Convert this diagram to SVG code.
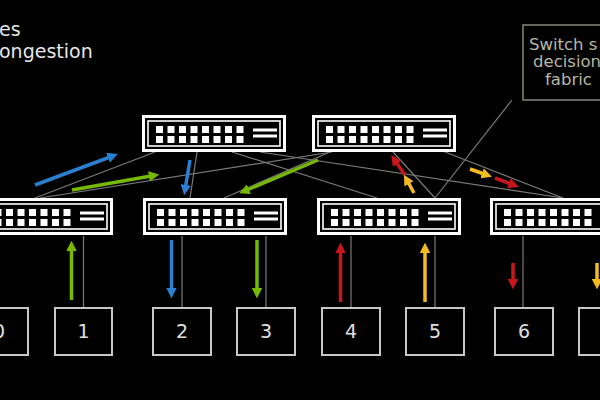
<svg xmlns="http://www.w3.org/2000/svg" xmlns:xlink="http://www.w3.org/1999/xlink" width="600" height="400" viewBox="0 0 600 400">
<style>
.title{font-family:"DejaVu Sans",sans-serif;font-size:19px;fill:#e6e6e6}
.note{font-family:"DejaVu Sans",sans-serif;font-size:16.5px;fill:#b9b6a6}
.hostbox{fill:#000;stroke:#c8c8c8;stroke-width:2}
.hostlbl{font-family:"DejaVu Sans",sans-serif;font-size:19px;fill:#e0e0e0;text-anchor:middle}
.link{stroke:#7a7a7a;stroke-width:1.2;fill:none}
.blue{stroke:#2a7fd0;stroke-width:3.5;fill:none;marker-end:url(#mb)}
.green{stroke:#76b900;stroke-width:3.5;fill:none;marker-end:url(#mg)}
.red{stroke:#c8161d;stroke-width:3.5;fill:none;marker-end:url(#mr)}
.yellow{stroke:#f4bb1f;stroke-width:3.5;fill:none;marker-end:url(#my)}
</style>
<defs>
<marker id="mb" viewBox="0 0 10 10" refX="2" refY="5" markerWidth="3" markerHeight="3" orient="auto"><path d="M0,0 L10,5 L0,10 z" fill="#2a7fd0"/></marker>
<marker id="mg" viewBox="0 0 10 10" refX="2" refY="5" markerWidth="3" markerHeight="3" orient="auto"><path d="M0,0 L10,5 L0,10 z" fill="#76b900"/></marker>
<marker id="mr" viewBox="0 0 10 10" refX="2" refY="5" markerWidth="3" markerHeight="3" orient="auto"><path d="M0,0 L10,5 L0,10 z" fill="#c8161d"/></marker>
<marker id="my" viewBox="0 0 10 10" refX="2" refY="5" markerWidth="3" markerHeight="3" orient="auto"><path d="M0,0 L10,5 L0,10 z" fill="#f4bb1f"/></marker>
<g id="sw">
<rect x="1.5" y="1.5" width="141" height="34" fill="#000" stroke="#fff" stroke-width="3"/>
<rect x="6" y="6" width="132" height="25" fill="none" stroke="#fff" stroke-width="1.6"/>
<g fill="#fff">
<rect x="14" y="11" width="7" height="7"/><rect x="25.5" y="11" width="7" height="7"/><rect x="37" y="11" width="7" height="7"/><rect x="48.5" y="11" width="7" height="7"/><rect x="60" y="11" width="7" height="7"/><rect x="71.5" y="11" width="7" height="7"/><rect x="83" y="11" width="7" height="7"/><rect x="94.5" y="11" width="7" height="7"/>
<rect x="14" y="21" width="7" height="7"/><rect x="25.5" y="21" width="7" height="7"/><rect x="37" y="21" width="7" height="7"/><rect x="48.5" y="21" width="7" height="7"/><rect x="60" y="21" width="7" height="7"/><rect x="71.5" y="21" width="7" height="7"/><rect x="83" y="21" width="7" height="7"/><rect x="94.5" y="21" width="7" height="7"/>
<rect x="111" y="13.5" width="24" height="3"/><rect x="111" y="19.5" width="24" height="3"/>
</g>
</g>
</defs>
<rect width="600" height="400" fill="#000"/>
<g id="title">
<text class="title" x="-1" y="36">es</text>
<text class="title" x="-1" y="58">ongestion</text>
</g>
<g id="connectors">
<line class="link" x1="35" y1="198" x2="155" y2="152"/>
<line class="link" x1="40" y1="198" x2="332" y2="152"/>
<line class="link" x1="197" y1="152" x2="190" y2="198"/>
<line class="link" x1="330" y1="152" x2="224" y2="198"/>
<line class="link" x1="232" y1="152" x2="377" y2="198"/>
<line class="link" x1="260" y1="152" x2="563" y2="198"/>
<line class="link" x1="393" y1="152" x2="435" y2="198"/>
<line class="link" x1="445" y1="152" x2="563" y2="198"/>
<line class="link" x1="512" y1="100" x2="435" y2="198"/>
<line class="link" x1="-1" y1="236" x2="-1" y2="308"/>
<line class="link" x1="83.5" y1="236" x2="83.5" y2="308"/>
<line class="link" x1="182" y1="236" x2="182" y2="308"/>
<line class="link" x1="266" y1="236" x2="266" y2="308"/>
<line class="link" x1="351" y1="236" x2="351" y2="308"/>
<line class="link" x1="435" y1="236" x2="435" y2="308"/>
<line class="link" x1="523" y1="236" x2="523" y2="308"/>
<line class="link" x1="608" y1="236" x2="608" y2="308"/>
<line class="blue" x1="35" y1="185" x2="110" y2="157"/>
<line class="green" x1="72" y1="190" x2="151" y2="176"/>
<line class="blue" x1="190" y1="160" x2="185.5" y2="187"/>
<line class="green" x1="318" y1="160" x2="247" y2="190"/>
<line class="red" x1="405" y1="175" x2="396" y2="162"/>
<line class="yellow" x1="414" y1="193" x2="408" y2="182"/>
<line class="yellow" x1="470" y1="169" x2="484" y2="174"/>
<line class="red" x1="495" y1="178" x2="511" y2="184"/>
<line class="green" x1="71.5" y1="300" x2="71.5" y2="249"/>
<line class="blue" x1="171.5" y1="240" x2="171.5" y2="290"/>
<line class="green" x1="257" y1="240" x2="257" y2="290"/>
<line class="red" x1="340.5" y1="302" x2="340.5" y2="251"/>
<line class="yellow" x1="425" y1="302" x2="425" y2="251"/>
<line class="red" x1="513" y1="263" x2="513" y2="281"/>
<line class="yellow" x1="597" y1="263" x2="597" y2="281"/>
</g>
<g id="callout">
<rect x="523" y="25" width="100" height="75" fill="none" stroke="#8a8778" stroke-width="1.5"/>
<text class="note" x="529" y="50">Switch s</text>
<text class="note" x="533" y="67">decision</text>
<text class="note" x="545" y="85">fabric</text>
</g>
<g id="spine1"><use xlink:href="#sw" x="142" y="115"/></g>
<g id="spine2"><use xlink:href="#sw" x="312" y="115"/></g>
<g id="leaf0"><use xlink:href="#sw" x="-31" y="198"/></g>
<g id="leaf1"><use xlink:href="#sw" x="143" y="198"/></g>
<g id="leaf2"><use xlink:href="#sw" x="317" y="198"/></g>
<g id="leaf3"><use xlink:href="#sw" x="490" y="198"/></g>
<g id="host0"><rect class="hostbox" x="-30" y="308" width="58" height="47"/><text class="hostlbl" x="-1" y="338">0</text></g>
<g id="host1"><rect class="hostbox" x="55" y="308" width="57" height="47"/><text class="hostlbl" x="83.5" y="338">1</text></g>
<g id="host2"><rect class="hostbox" x="153" y="308" width="58" height="47"/><text class="hostlbl" x="182" y="338">2</text></g>
<g id="host3"><rect class="hostbox" x="237" y="308" width="58" height="47"/><text class="hostlbl" x="266" y="338">3</text></g>
<g id="host4"><rect class="hostbox" x="322" y="308" width="58" height="47"/><text class="hostlbl" x="351" y="338">4</text></g>
<g id="host5"><rect class="hostbox" x="406" y="308" width="58" height="47"/><text class="hostlbl" x="435" y="338">5</text></g>
<g id="host6"><rect class="hostbox" x="495" y="308" width="58" height="47"/><text class="hostlbl" x="524" y="338">6</text></g>
<g id="host7"><rect class="hostbox" x="579" y="308" width="58" height="47"/></g>
</svg>
